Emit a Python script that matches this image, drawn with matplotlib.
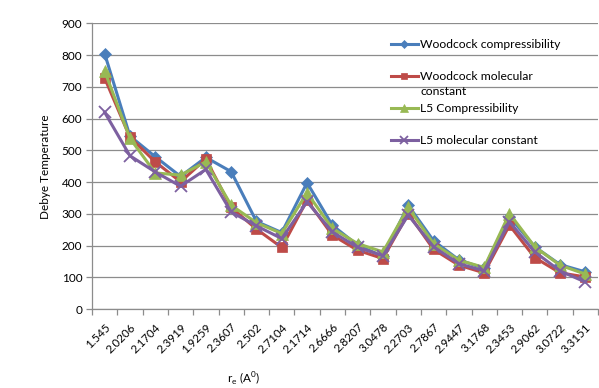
import matplotlib
matplotlib.use("Agg")
import matplotlib.pyplot as plt
import numpy as np

plt.rcParams['font.family'] = ['Lato', 'DejaVu Sans']

categories = ["1.545", "2.0206", "2.1704", "2.3919", "1.9259", "2.3607", "2.502", "2.7104",
              "2.1714", "2.6666", "2.8207", "3.0478", "2.2703", "2.7867", "2.9447", "3.1768",
              "2.3453", "2.9062", "3.0722", "3.3151"]

woodcock_comp = [805, 545, 480, 418, 478, 433, 276, 241, 398, 264, 201, 166, 327, 215, 155, 128, 291, 196, 140, 117]
woodcock_mol = [728, 541, 464, 401, 473, 320, 252, 194, 343, 233, 185, 159, 301, 188, 138, 114, 264, 162, 114, 101]
l5_comp = [750, 538, 429, 422, 464, 327, 272, 238, 366, 254, 206, 180, 320, 206, 154, 131, 301, 196, 138, 110]
l5_mol = [620, 483, 432, 387, 440, 306, 262, 222, 338, 243, 194, 168, 296, 196, 143, 120, 275, 180, 120, 85]

series = [
    ("Woodcock compressibility", woodcock_comp, "#4A7EBB", "D", 6),
    ("Woodcock molecular", woodcock_mol, "#BE4B48", "s", 7),
    ("L5 Compressibility", l5_comp, "#98B954", "^", 8),
    ("L5 molecular constant", l5_mol, "#7D60A0", "x", 8),
]

fig = plt.figure(figsize=(5.99, 3.88), dpi=100)
ax = fig.add_axes([92/599, 1-309/388, (598-92)/599, (309-23.5)/388])

x = np.arange(len(categories))
for label, vals, color, marker, ms in series:
    ax.plot(x, vals, color=color, lw=2.2, marker=marker, markersize=ms,
            markeredgewidth=1.3 if marker == "x" else 0.5, markeredgecolor=color, label=label)

ax.set_xlim(-0.5, len(categories) - 0.5)
ax.set_ylim(0, 900)
ax.set_yticks(np.arange(0, 901, 100))
ax.yaxis.grid(True, color="#8c8c8c", lw=0.9)
ax.set_axisbelow(True)
for s in ["top", "right"]:
    ax.spines[s].set_visible(False)
for s in ["left", "bottom"]:
    ax.spines[s].set_color("#8c8c8c")
    ax.spines[s].set_linewidth(0.9)

ax.set_xticks(x)
ax.set_xticklabels(categories, rotation=45, ha="right", rotation_mode="anchor", fontsize=8.3)
ax.set_xticks(np.arange(-0.5, len(categories), 1), minor=True)
ax.tick_params(axis="x", which="major", length=0, pad=9)
ax.tick_params(axis="x", which="minor", length=4, color="#8c8c8c", width=0.9)
ax.tick_params(axis="y", length=4, color="#8c8c8c", width=0.9, labelsize=8.5, pad=3)

ax.set_ylabel("Debye Temperature", fontsize=8.5, labelpad=8)
ax.set_xlabel(r"r$_\mathregular{e}$ (A$^\mathregular{0}$)", fontsize=8.5)
ax.xaxis.set_label_coords(0.30, -0.215)

leg = ax.legend(loc="upper left", bbox_to_anchor=(385/599, 1-33/388), bbox_transform=fig.transFigure,
                frameon=False, fontsize=8.7, handlelength=2.2, handletextpad=0.2,
                labelspacing=1.75, borderpad=0, markerscale=0.7)
ann = ax.annotate("constant", xy=(0, 0), xycoords=leg.get_texts()[1], xytext=(0, -2.5),
                  textcoords="offset points", ha="left", va="top", fontsize=8.7,
                  annotation_clip=False)
ann.set_zorder(10)

fig.canvas.draw()
fig.savefig("out.png", dpi=100)
